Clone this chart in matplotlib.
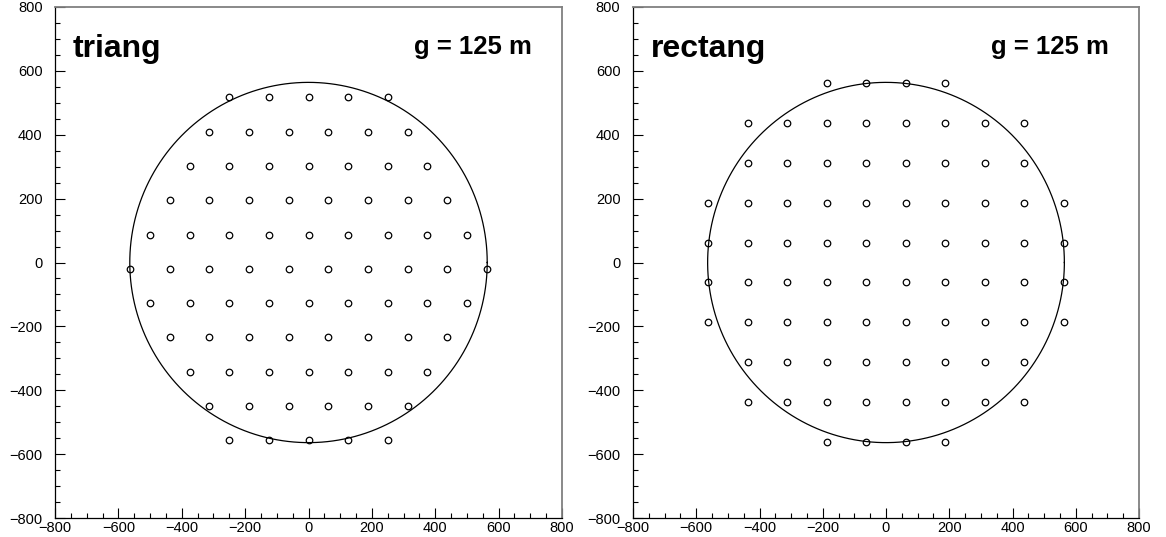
import numpy as np
import matplotlib
matplotlib.use("Agg")
from matplotlib import pyplot as plt
from matplotlib.ticker import MultipleLocator

plt.rcParams["font.family"] = ["Liberation Sans", "DejaVu Sans"]

# Triangular grid (g = 125 m): row heights and x positions in each row
triang_rows_y = [517, 410, 302, 195, 87, -20, -127, -234, -342, -449, -556]
triang_rows_x = [
    [-250, -125, 0, 125, 250],
    [-312.5, -187.5, -62.5, 62.5, 187.5, 312.5],
    [-375, -250, -125, 0, 125, 250, 375],
    [-437.5, -312.5, -187.5, -62.5, 62.5, 187.5, 312.5, 437.5],
    [-500, -375, -250, -125, 0, 125, 250, 375, 500],
    [-562.5, -437.5, -312.5, -187.5, -62.5, 62.5, 187.5, 312.5, 437.5, 562.5],
    [-500, -375, -250, -125, 0, 125, 250, 375, 500],
    [-437.5, -312.5, -187.5, -62.5, 62.5, 187.5, 312.5, 437.5],
    [-375, -250, -125, 0, 125, 250, 375],
    [-312.5, -187.5, -62.5, 62.5, 187.5, 312.5],
    [-250, -125, 0, 125, 250],
]

# Rectangular grid (g = 125 m)
rect_rows_y = [562.5, 437.5, 312.5, 187.5, 62.5, -62.5, -187.5, -312.5, -437.5, -562.5]
rect_rows_x = [
    [-187.5, -62.5, 62.5, 187.5],
    [-437.5, -312.5, -187.5, -62.5, 62.5, 187.5, 312.5, 437.5],
    [-437.5, -312.5, -187.5, -62.5, 62.5, 187.5, 312.5, 437.5],
    [-562.5, -437.5, -312.5, -187.5, -62.5, 62.5, 187.5, 312.5, 437.5, 562.5],
    [-562.5, -437.5, -312.5, -187.5, -62.5, 62.5, 187.5, 312.5, 437.5, 562.5],
    [-562.5, -437.5, -312.5, -187.5, -62.5, 62.5, 187.5, 312.5, 437.5, 562.5],
    [-562.5, -437.5, -312.5, -187.5, -62.5, 62.5, 187.5, 312.5, 437.5, 562.5],
    [-437.5, -312.5, -187.5, -62.5, 62.5, 187.5, 312.5, 437.5],
    [-437.5, -312.5, -187.5, -62.5, 62.5, 187.5, 312.5, 437.5],
    [-187.5, -62.5, 62.5, 187.5],
]

RADIUS = 564  # circle of 1 km^2
panel_names = ["triang", "rectang"]
grid_label = "g = 125 m"

fig = plt.figure(figsize=(11.66, 5.37), dpi=100)
ax_left = fig.add_axes([55 / 1166, 19 / 537, 507 / 1166, 511 / 537])
ax_right = fig.add_axes([633 / 1166, 19 / 537, 506 / 1166, 511 / 537])

panels = [
    (ax_left, triang_rows_y, triang_rows_x),
    (ax_right, rect_rows_y, rect_rows_x),
]

phi = np.linspace(0, 2 * np.pi, 400)
for (ax, rows_y, rows_x), name in zip(panels, panel_names):
    xs = [x for row in rows_x for x in row]
    ys = [y for y, row in zip(rows_y, rows_x) for _ in row]
    ax.plot(RADIUS * np.cos(phi), RADIUS * np.sin(phi), color="black", lw=0.9)
    ax.plot(xs, ys, linestyle="none", marker="o", markersize=4.7,
            markerfacecolor="none", markeredgecolor="black",
            markeredgewidth=0.9)

    ax.set_xlim(-800, 800)
    ax.set_ylim(-800, 800)
    ax.xaxis.set_major_locator(MultipleLocator(200))
    ax.xaxis.set_minor_locator(MultipleLocator(50))
    ax.yaxis.set_major_locator(MultipleLocator(200))
    ax.yaxis.set_minor_locator(MultipleLocator(50))
    ax.tick_params(which="both", direction="in", top=False, right=False,
                   labelsize=10.5, colors="black")
    ax.tick_params(which="major", length=7, width=0.8)
    ax.tick_params(axis="x", which="major", pad=2)
    ax.tick_params(axis="y", which="major", pad=9)
    ax.tick_params(which="minor", length=3.5, width=0.8)
    for side in ["top", "right"]:
        ax.spines[side].set_color("#808080")
        ax.spines[side].set_linewidth(1.3)
    for side in ["left", "bottom"]:
        ax.spines[side].set_linewidth(0.9)

    ax.text(-745, 644, name, fontsize=23, fontweight="bold", ha="left",
            va="baseline")
    ax.text(705, 653, grid_label, fontsize=18.5, fontweight="bold", ha="right",
            va="baseline")

plt.savefig("out.png", dpi=100)
